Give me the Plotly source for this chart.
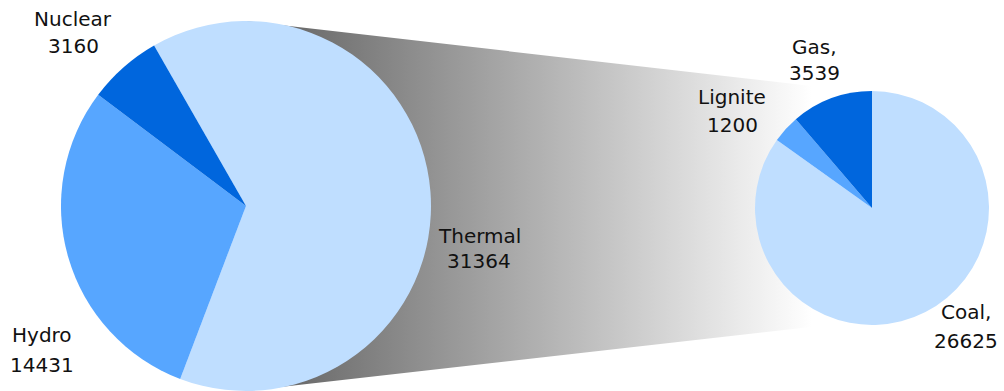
import plotly.graph_objects as go

# Electricity generation by source (left pie) and the thermal breakdown (right pie)
main_labels = ["Thermal", "Hydro", "Nuclear"]
main_values = [31364, 14431, 3160]

thermal_labels = ["Coal,", "Lignite", "Gas,"]
thermal_values = [26625, 1200, 3539]

light, medium, dark = "#BFDEFF", "#57A6FF", "#0066DD"

W, H = 1004, 391

fig = go.Figure()

# Shaded connector between the two pies (pixel-space axes)
fig.add_trace(go.Scatter(
    x=[246, 872, 872, 246], y=[21, 93, 320, 391],
    mode="lines", fill="toself", line=dict(width=0),
    fillgradient=dict(type="horizontal", start=246, stop=812,
                      colorscale=[[0, "#5d5d5d"], [1, "#ffffff"]]),
    hoverinfo="skip", showlegend=False,
))


def domain(cx, cy, r):
    return dict(x=[(cx - r) / W, (cx + r) / W],
                y=[max(0, 1 - (cy + r) / H), min(1, 1 - (cy - r) / H)])


fig.add_trace(go.Pie(
    labels=main_labels, values=main_values, sort=False,
    direction="clockwise", rotation=-29.8,
    marker=dict(colors=[light, medium, dark], line=dict(width=0)),
    textinfo="none", showlegend=False,
    domain=domain(246, 206, 185),
))

fig.add_trace(go.Pie(
    labels=thermal_labels, values=thermal_values, sort=False,
    direction="clockwise", rotation=0,
    marker=dict(colors=[light, medium, dark], line=dict(width=0)),
    textinfo="none", showlegend=False,
    domain=domain(872, 208, 117),
))

# Label placement: (center x, first-line y, second-line y)
main_pos = [(479, 236, 261), (42, 335, 365), (73, 19, 46)]
thermal_pos = [(966, 312, 341), (732, 97, 125), (814, 47, 73)]

annotations = []
for names, vals, pos in ((main_labels, main_values, main_pos),
                         (thermal_labels, thermal_values, thermal_pos)):
    for name, val, (x, y1, y2) in zip(names, vals, pos):
        for txt, y in ((name, y1), (str(val), y2)):
            annotations.append(dict(
                x=x, y=y, xref="x", yref="y", text=txt, showarrow=False,
                xanchor="center", yanchor="middle",
                font=dict(family="DejaVu Sans", size=20, color="#111111"),
            ))

fig.update_layout(
    width=W, height=H, margin=dict(l=0, r=0, t=0, b=0),
    paper_bgcolor="white", plot_bgcolor="white",
    xaxis=dict(range=[0, W], visible=False, fixedrange=True),
    yaxis=dict(range=[H, 0], visible=False, fixedrange=True),
    annotations=annotations,
)

fig.write_html("out.html")
